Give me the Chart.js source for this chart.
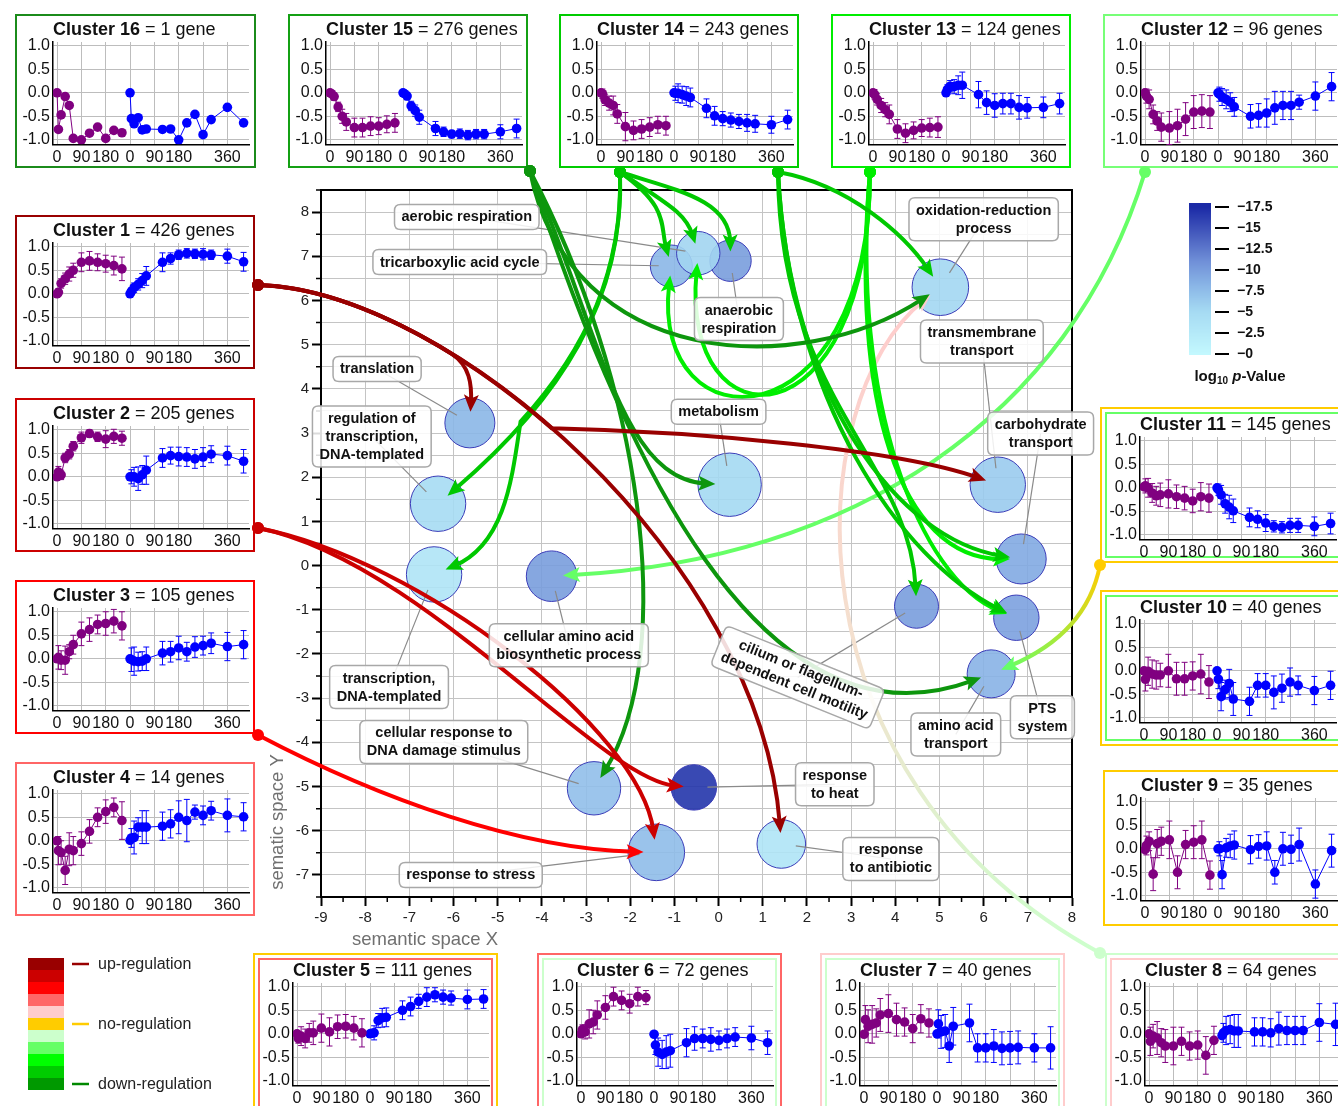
<!DOCTYPE html>
<html><head><meta charset="utf-8">
<script src="https://cdn.jsdelivr.net/npm/chart.js@4.4.0/dist/chart.umd.min.js"></script>
<style>
html,body{margin:0;padding:0;background:#fff;}
body{width:1338px;height:1106px;position:relative;overflow:hidden;font-family:"Liberation Sans",Arial,sans-serif;}
.panel{position:absolute;}
.bo{position:absolute;left:0;top:0;right:0;bottom:0;box-sizing:border-box;border:2px solid;}
.bi{position:absolute;left:5px;top:5px;right:5px;bottom:5px;box-sizing:border-box;border:2px solid;}
.panel canvas{position:absolute;left:0;top:0;}
#main{position:absolute;left:0;top:0;z-index:5;pointer-events:none;}
</style></head><body>
<canvas id="main" width="1338" height="1106"></canvas>
<script>
// ---------------- DATA ----------------
// GO terms (semantic space)
const termName = ['translation','regulation of transcription, DNA-templated','transcription, DNA-templated','cellular amino acid biosynthetic process','cellular response to DNA damage stimulus','response to stress','response to heat','response to antibiotic','metabolism','tricarboxylic acid cycle','anaerobic respiration','aerobic respiration','oxidation-reduction process','transmembrane transport','carbohydrate transport','PTS system','cilium or flagellum-dependent cell motility','amino acid transport'];
const termX = [-5.63,-6.35,-6.44,-3.78,-2.82,-1.41,-0.56,1.42,0.25,-1.07,0.27,-0.46,5.02,6.32,6.85,6.74,4.48,6.17];
const termY = [3.23,1.40,-0.20,-0.24,-5.04,-6.49,-5.02,-6.30,1.83,6.78,6.90,7.07,6.30,1.83,0.15,-1.18,-0.92,-2.45];
const termSize = [25,27.7,27.7,25.3,26.7,28.3,22.7,24.3,31.7,21,20.7,21.7,28.3,27.7,25,22.7,22,24];
const termLogP = [-8,-5,-3.5,-10,-7.3,-7.6,-16.8,-3.5,-5.2,-8,-10,-5.5,-5.3,-6.3,-9,-9.7,-10,-8.3];

// colour bar
const cbTicks = [-17.5,-15,-12.5,-10,-7.5,-5,-2.5,-0];
const cbTickText = ['\u221217.5','\u221215','\u221212.5','\u221210','\u22127.5','\u22125','\u22122.5','\u22120'];
const cbStops = [[0,'#c3f8fe'],[-5,'#a6dbf3'],[-8,'#8bb7e7'],[-11,'#7090d8'],[-14,'#4a60c0'],[-17.5,'#1b2aa6']];

// regulation legend
const regColors = ['#990000','#cc0000','#ff0000','#ff6666','#ffcccc','#ffcc00','#ccffcc','#66ff66','#00ff00','#00cc00','#009900'];
const regLabels = ['up-regulation','no-regulation','down-regulation'];
const regLabelBand = [0,5,10];
const regLineColors = ['#990000','#ffcc00','#008800'];

// main axis ticks
const xMajor = [-9,-8,-7,-6,-5,-4,-3,-2,-1,0,1,2,3,4,5,6,7,8];
const yMajor = [-7,-6,-5,-4,-3,-2,-1,0,1,2,3,4,5,6,7,8];

// cluster time courses
const purpleTime = [0,5,15,30,45,60,90,120,150,180,210,240];
const blueTime = [0,5,15,30,45,60,120,150,180,210,240,270,300,360,420];
const blueStart = 270;
const xTickPos = [0,90,180,270,360,450,540,630];
const xTickText = ['0','90','180','0','90','180','','360'];
const yTickVals = [-1,-0.5,0,0.5,1];
const geneCount = [426,205,105,14,111,72,40,64,35,40,145,96,124,243,276,1];

const c1p = [0,0.03,0.22,0.32,0.42,0.5,0.67,0.7,0.67,0.64,0.6,0.53];
const c1pe = [0.05,0.08,0.1,0.12,0.15,0.15,0.2,0.2,0.18,0.18,0.2,0.25];
const c1b = [0,0.05,0.13,0.2,0.28,0.38,0.67,0.75,0.83,0.86,0.85,0.84,0.83,0.8,0.68];
const c1be = [0.05,0.08,0.1,0.12,0.15,0.2,0.2,0.12,0.1,0.1,0.1,0.12,0.1,0.15,0.2];
const c2p = [0,0.1,0.04,0.4,0.48,0.65,0.83,0.92,0.85,0.8,0.86,0.82];
const c2pe = [0.05,0.12,0.1,0.1,0.1,0.1,0.12,0.08,0.1,0.18,0.15,0.15];
const c2b = [0,0,0,-0.04,0.04,0.14,0.4,0.45,0.43,0.42,0.38,0.42,0.48,0.45,0.33];
const c2be = [0.05,0.15,0.2,0.25,0.2,0.3,0.2,0.18,0.2,0.2,0.2,0.2,0.18,0.2,0.25];
const c3p = [0,0.03,-0.03,-0.03,0.15,0.3,0.53,0.62,0.73,0.75,0.8,0.7];
const c3pe = [0.05,0.25,0.2,0.3,0.15,0.2,0.25,0.25,0.2,0.25,0.25,0.3];
const c3b = [0,-0.02,-0.05,-0.06,-0.05,0,0.12,0.15,0.23,0.15,0.25,0.28,0.33,0.26,0.3];
const c3be = [0.05,0.25,0.3,0.2,0.2,0.25,0.25,0.22,0.25,0.2,0.22,0.2,0.22,0.3,0.3];
const c4p = [0,-0.21,-0.25,-0.63,-0.18,-0.21,-0.06,0.2,0.5,0.62,0.71,0.43];
const c4pe = [0.05,0.3,0.25,0.3,0.35,0.3,0.25,0.25,0.2,0.25,0.2,0.4];
const c4b = [0.01,0.06,0.07,0.29,0.29,0.29,0.31,0.36,0.5,0.43,0.61,0.54,0.64,0.54,0.51];
const c4be = [0.05,0.2,0.35,0.2,0.35,0.35,0.3,0.3,0.35,0.45,0.15,0.2,0.2,0.35,0.3];
const c5p = [0,-0.1,-0.05,-0.1,0.02,0.02,0.12,0.04,0.15,0.16,0.12,0.02];
const c5pe = [0.05,0.1,0.2,0.2,0.2,0.25,0.3,0.3,0.25,0.25,0.25,0.3];
const c5b = [0,0.01,0.02,0.28,0.34,0.35,0.5,0.58,0.69,0.78,0.83,0.78,0.76,0.73,0.74];
const c5be = [0.05,0.05,0.15,0.15,0.2,0.2,0.2,0.2,0.15,0.2,0.15,0.15,0.15,0.2,0.2];
const c6p = [0,0.09,0.04,0.21,0.25,0.4,0.56,0.79,0.71,0.64,0.79,0.77];
const c6pe = [0.05,0.1,0.15,0.3,0.25,0.3,0.25,0.2,0.2,0.2,0.2,0.15];
const c6b = [-0.01,-0.24,-0.39,-0.44,-0.39,-0.36,-0.19,-0.1,-0.1,-0.12,-0.14,-0.1,-0.07,-0.09,-0.19];
const c6be = [0.05,0.2,0.3,0.3,0.35,0.35,0.3,0.25,0.2,0.25,0.2,0.2,0.2,0.25,0.25];
const c7p = [-0.01,0.3,0.16,0.2,0.23,0.4,0.43,0.3,0.25,0.11,0.32,0.23];
const c7pe = [0.05,0.3,0.35,0.4,0.3,0.35,0.4,0.35,0.3,0.3,0.3,0.3];
const c7b = [0,0.21,0.04,0.06,-0.26,0.16,0.23,-0.3,-0.3,-0.26,-0.31,-0.3,-0.29,-0.3,-0.3];
const c7be = [0.05,0.3,0.35,0.35,0.35,0.4,0.4,0.3,0.3,0.35,0.35,0.35,0.35,0.3,0.45];
const c8p = [0,-0.16,-0.05,-0.09,-0.19,-0.26,-0.26,-0.16,-0.26,-0.24,-0.46,-0.14];
const c8pe = [0.05,0.3,0.25,0.35,0.3,0.35,0.4,0.3,0.3,0.3,0.4,0.3];
const c8b = [-0.04,0.02,0.07,0.09,0.06,0.06,0.04,0.04,0.02,0.11,0.07,0.07,0.07,0.24,0.2];
const c8be = [0.05,0.2,0.3,0.3,0.35,0.35,0.3,0.3,0.3,0.35,0.3,0.3,0.3,0.4,0.45];
const c9p = [-0.02,0.07,0.16,-0.54,0.11,0.16,0.19,-0.5,0.09,0.14,0.19,-0.56];
const c9pe = [0.05,0.2,0.2,0.35,0.3,0.3,0.4,0.35,0.3,0.35,0.4,0.3];
const c9b = [0,0,-0.55,0.02,0.06,0.08,-0.02,0.05,0.06,-0.5,0,-0.01,0.09,-0.75,-0.04];
const c9be = [0.05,0.15,0.3,0.2,0.25,0.3,0.3,0.25,0.3,0.25,0.35,0.3,0.35,0.3,0.35];
const c10p = [0,-0.18,-0.01,-0.07,-0.09,-0.09,0,-0.17,-0.17,-0.11,-0.07,-0.24];
const c10pe = [0.05,0.25,0.3,0.3,0.3,0.25,0.35,0.35,0.35,0.3,0.42,0.35];
const c10b = [0,-0.18,-0.55,-0.4,-0.27,-0.6,-0.65,-0.31,-0.31,-0.46,-0.37,-0.24,-0.31,-0.42,-0.31];
const c10be = [0.05,0.2,0.3,0.2,0.3,0.35,0.3,0.25,0.25,0.35,0.3,0.3,0.2,0.3,0.3];
const c11p = [0.02,0.04,0,-0.11,-0.17,-0.15,-0.13,-0.19,-0.22,-0.28,-0.19,-0.22];
const c11pe = [0.05,0.15,0.2,0.2,0.2,0.25,0.3,0.25,0.25,0.25,0.3,0.3];
const c11b = [0,-0.04,-0.15,-0.34,-0.41,-0.49,-0.63,-0.67,-0.75,-0.82,-0.84,-0.8,-0.8,-0.82,-0.76];
const c11be = [0.05,0.12,0.2,0.2,0.25,0.25,0.2,0.18,0.18,0.12,0.12,0.15,0.15,0.2,0.22];
const c12p = [0,-0.07,-0.14,-0.46,-0.6,-0.73,-0.75,-0.7,-0.56,-0.41,-0.39,-0.41];
const c12pe = [0.05,0.15,0.2,0.2,0.2,0.3,0.35,0.35,0.35,0.35,0.35,0.35];
const c12b = [0,-0.03,-0.09,-0.14,-0.2,-0.3,-0.5,-0.48,-0.43,-0.32,-0.27,-0.27,-0.2,-0.07,0.13];
const c12be = [0.05,0.15,0.18,0.2,0.2,0.2,0.25,0.25,0.3,0.35,0.3,0.3,0.15,0.3,0.3];
const c13p = [0,-0.03,-0.14,-0.27,-0.36,-0.46,-0.77,-0.86,-0.8,-0.75,-0.74,-0.73];
const c13pe = [0.05,0.1,0.12,0.15,0.15,0.2,0.2,0.2,0.18,0.18,0.2,0.22];
const c13b = [0,0.07,0.14,0.13,0.16,0.16,-0.04,-0.21,-0.27,-0.23,-0.23,-0.31,-0.32,-0.31,-0.23];
const c13be = [0.05,0.1,0.12,0.15,0.2,0.28,0.28,0.25,0.25,0.22,0.22,0.25,0.22,0.22,0.22];
const c14p = [0,-0.02,-0.15,-0.22,-0.27,-0.45,-0.72,-0.8,-0.77,-0.73,-0.68,-0.7];
const c14pe = [0.05,0.1,0.12,0.15,0.2,0.2,0.3,0.2,0.2,0.2,0.18,0.2];
const c14b = [0,-0.01,-0.01,-0.04,-0.07,-0.1,-0.33,-0.49,-0.55,-0.58,-0.61,-0.64,-0.66,-0.68,-0.57];
const c14be = [0.05,0.15,0.2,0.18,0.2,0.2,0.2,0.2,0.15,0.15,0.15,0.18,0.18,0.18,0.2];
const c15p = [0,-0.02,-0.08,-0.3,-0.5,-0.62,-0.74,-0.74,-0.71,-0.71,-0.67,-0.64];
const c15pe = [0.02,0.05,0.08,0.1,0.15,0.18,0.2,0.2,0.2,0.18,0.18,0.2];
const c15b = [0,-0.02,-0.07,-0.28,-0.38,-0.52,-0.76,-0.83,-0.88,-0.87,-0.9,-0.88,-0.88,-0.83,-0.76];
const c15be = [0.02,0.05,0.08,0.1,0.12,0.15,0.15,0.1,0.08,0.1,0.1,0.1,0.1,0.15,0.2];
const c16p = [0,-0.78,-0.47,-0.08,-0.27,-0.97,-1.0,-0.86,-0.73,-0.97,-0.8,-0.85];
const c16pe = [0,0,0,0,0,0,0,0,0,0,0,0];
const c16b = [0,-0.55,-0.66,-0.53,-0.79,-0.77,-0.78,-0.77,-1.0,-0.64,-0.46,-0.89,-0.57,-0.31,-0.64];
const c16be = [0,0,0,0,0,0,0,0,0,0,0,0,0,0,0];

const clusterSeries = {
 1:[c1p,c1pe,c1b,c1be],2:[c2p,c2pe,c2b,c2be],3:[c3p,c3pe,c3b,c3be],4:[c4p,c4pe,c4b,c4be],
 5:[c5p,c5pe,c5b,c5be],6:[c6p,c6pe,c6b,c6be],7:[c7p,c7pe,c7b,c7be],8:[c8p,c8pe,c8b,c8be],
 9:[c9p,c9pe,c9b,c9be],10:[c10p,c10pe,c10b,c10be],11:[c11p,c11pe,c11b,c11be],12:[c12p,c12pe,c12b,c12be],
 13:[c13p,c13pe,c13b,c13be],14:[c14p,c14pe,c14b,c14be],15:[c15p,c15pe,c15b,c15be],16:[c16p,c16pe,c16b,c16be]
};

// ---------------- LAYOUT / STYLE ----------------
const FAM = '"Liberation Sans", Arial, Helvetica, sans-serif';
Chart.defaults.font.family = FAM;

const panels = [
 {c:16,x:15,y:14,w:241,h:154,outer:'#1b8b1b'},
 {c:15,x:288,y:14,w:240,h:154,outer:'#14a014'},
 {c:14,x:559,y:14,w:240,h:154,outer:'#00cc00'},
 {c:13,x:831,y:14,w:240,h:154,outer:'#00ee00'},
 {c:12,x:1103,y:14,w:240,h:154,outer:'#77ff77'},
 {c:1,x:15,y:215,w:240,h:154,outer:'#990000'},
 {c:2,x:15,y:398,w:240,h:154,outer:'#cc0000'},
 {c:3,x:15,y:580,w:240,h:154,outer:'#ff0000'},
 {c:4,x:15,y:762,w:240,h:154,outer:'#ff6666'},
 {c:5,x:253,y:953,w:245,h:160,outer:'#ffcc00',inner:'#ff6666'},
 {c:6,x:537,y:953,w:245,h:160,outer:'#ff6666',inner:'#ccffcc'},
 {c:7,x:820,y:953,w:245,h:160,outer:'#ffcccc',inner:'#ccffcc'},
 {c:8,x:1105,y:953,w:245,h:160,outer:'#ccffcc',inner:'#ffcccc'},
 {c:11,x:1100,y:407,w:245,h:156,outer:'#ffcc00',inner:'#66ff66'},
 {c:10,x:1100,y:590,w:245,h:156,outer:'#ffcc00',inner:'#66ff66'},
 {c:9,x:1103,y:770,w:240,h:156,outer:'#ffcc00'}
];
const panelById = {}; panels.forEach(p => panelById[p.c] = p);

// arrow anchors (offset from panel box corner)
const arrowAnchors = {1:[[243,70]],2:[[243,130]],3:[[243,155]],15:[[242,157]],14:[[61,158],[219,158]],13:[[39,158]],12:[[42,158]],11:[[0,158]],8:[[-5,0]]};
const arrowColor = {1:'#990000',2:'#cc0000',3:'#ff0000',15:'#0d960d',14:'#00c800',13:'#00ee00',12:'#66ff66',11:['#ffcc00','#66ff66'],8:['#ccffcc','#f3e2cf','#ffcccc']};
// curve control points in semantic-space coordinates
const arrowDefs = [
 {from:8,to:12,via:[[1.385,-4.833],[1.837,3.754]]},
 {from:12,to:3,via:[[7.946,3.302],[2.968,0.138]]},
 {from:11,to:17,via:[[8.398,-1.218],[7.493,-1.896]]},
 {from:13,to:9,via:[[3.421,2.624],[-1.557,2.624]]},
 {from:13,to:11,via:[[3.421,2.624],[-0.878,2.624]]},
 {from:13,to:14,via:[[2.968,3.754],[4.10,0.138]]},
 {from:13,to:15,via:[[2.968,3.754],[4.552,-0.313]]},
 {from:14,a:0,to:1,via:[[-2.122,6.014],[-3.593,3.754]]},
 {from:14,a:0,to:2,via:[[-2.167,6.737],[-2.962,4.924],[-4.483,3.257],[-4.679,1.946],[-4.837,0.477]]},
 {from:14,a:0,to:9,via:[[-1.100,8.100],[-1.330,7.700]]},
 {from:14,a:0,to:11,via:[[-1.200,8.200],[-0.750,8.000]]},
 {from:14,a:0,to:10,via:[[-1.000,8.500],[0.250,8.300]]},
 {from:14,a:1,to:12,via:[[2.968,8.613],[4.213,7.483]]},
 {from:14,a:1,to:16,via:[[1.385,3.754],[4.326,2.398]]},
 {from:14,a:1,to:15,via:[[1.611,3.754],[4.10,0.138]]},
 {from:14,a:1,to:14,via:[[1.611,3.754],[4.10,0.590]]},
 {from:15,to:12,via:[[-3.367,4.432],[1.837,4.206]]},
 {from:15,to:4,via:[[-1.783,4.206],[-0.878,-1.896]]},
 {from:15,to:8,via:[[-2.688,5.336],[-2.235,1.946]]},
 {from:15,to:17,via:[[-2.235,2.624],[0.932,-4.381]]},
 {from:3,to:5,via:[[-7.665,-5.285],[-4.498,-6.415]]},
 {from:2,to:6,via:[[-6.760,0.138],[-2.688,-4.833]]},
 {from:2,to:5,via:[[-6.760,0.138],[-1.783,-3.703]]},
 {from:1,to:0,via:[[-9.122,6.319],[-7.579,5.745],[-6.043,4.792],[-5.629,4.523],[-5.584,4.093]]},
 {from:1,to:7,via:[[-6.081,6.240],[0.932,0.138]]},
 {from:1,to:13,via:[[-8.471,6.302],[-5.975,5.038],[-3.778,3.108],[-0.425,3.031],[4.10,2.624]]}
];

// label boxes (semantic-space positions)
const termLabels = [
 {t:0,lines:['translation'],x:-7.73,y:4.45},
 {t:1,lines:['regulation of','transcription,','DNA-templated'],x:-7.85,y:2.92},
 {t:2,lines:['transcription,','DNA-templated'],x:-7.46,y:-2.75},
 {t:3,lines:['cellular amino acid','biosynthetic process'],x:-3.39,y:-1.80},
 {t:4,lines:['cellular response to','DNA damage stimulus'],x:-6.22,y:-3.99},
 {t:5,lines:['response to stress'],x:-5.61,y:-7.0},
 {t:6,lines:['response','to heat'],x:2.63,y:-4.95},
 {t:7,lines:['response','to antibiotic'],x:3.90,y:-6.64},
 {t:8,lines:['metabolism'],x:0.0,y:3.48},
 {t:9,lines:['tricarboxylic acid cycle'],x:-5.86,y:6.87},
 {t:10,lines:['anaerobic','respiration'],x:0.46,y:5.58},
 {t:11,lines:['aerobic respiration'],x:-5.70,y:7.89},
 {t:12,lines:['oxidation-reduction','process'],x:6.0,y:7.84},
 {t:13,lines:['transmembrane','transport'],x:5.96,y:5.07},
 {t:14,lines:['carbohydrate','transport'],x:7.29,y:2.99},
 {t:15,lines:['PTS','system'],x:7.33,y:-3.43},
 {t:16,lines:['cilium or flagellum-','dependent cell motility'],x:1.79,y:-2.53,rot:22},
 {t:17,lines:['amino acid','transport'],x:5.37,y:-3.82}
];

// ---------------- HELPERS ----------------
function hexToRgb(h){return [parseInt(h.slice(1,3),16),parseInt(h.slice(3,5),16),parseInt(h.slice(5,7),16)];}
function pColor(p, alpha){
  if (alpha === undefined) alpha = 1;
  const s = cbStops; let i = 0;
  while (i < s.length-2 && p < s[i+1][0]) i++;
  let t = (p - s[i][0])/(s[i+1][0]-s[i][0]); t = Math.max(0,Math.min(1,t));
  const a = hexToRgb(s[i][1]), b = hexToRgb(s[i+1][1]);
  return 'rgba('+a.map((x,k)=>Math.round(x+(b[k]-x)*t)).join(',')+','+alpha+')';
}
function roundRect(ctx,x,y,w,h,r){
  ctx.beginPath(); ctx.moveTo(x+r,y); ctx.lineTo(x+w-r,y); ctx.quadraticCurveTo(x+w,y,x+w,y+r);
  ctx.lineTo(x+w,y+h-r); ctx.quadraticCurveTo(x+w,y+h,x+w-r,y+h); ctx.lineTo(x+r,y+h);
  ctx.quadraticCurveTo(x,y+h,x,y+h-r); ctx.lineTo(x,y+r); ctx.quadraticCurveTo(x,y,x+r,y); ctx.closePath();
}

// ---------------- PANELS ----------------
const errorBars = {
  id:'errorBars',
  beforeDatasetsDraw(chart){
    const ctx = chart.ctx, ys = chart.scales.y;
    chart.data.datasets.forEach((ds,di)=>{
      const meta = chart.getDatasetMeta(di);
      ctx.save(); ctx.strokeStyle = ds.borderColor; ctx.lineWidth = 1;
      meta.data.forEach((pt,i)=>{
        const e = ds.errors[i]; if (!e) return;
        const v = ds.data[i].y;
        const y1 = ys.getPixelForValue(v+e), y2 = ys.getPixelForValue(v-e), x = pt.x;
        ctx.beginPath(); ctx.moveTo(x,y1); ctx.lineTo(x,y2);
        ctx.moveTo(x-3,y1); ctx.lineTo(x+3,y1); ctx.moveTo(x-3,y2); ctx.lineTo(x+3,y2); ctx.stroke();
      });
      ctx.restore();
    });
  }
};
function titlePlugin(bold, rest){
  return {id:'ptitle', afterDraw(chart){
    const ctx = chart.ctx; ctx.save(); ctx.fillStyle='#111'; ctx.textBaseline='middle'; ctx.textAlign='left';
    const x = chart.chartArea.left, y = chart.chartArea.top - 12;
    ctx.font = 'bold 18px '+FAM; ctx.fillText(bold,x,y);
    const w = ctx.measureText(bold).width;
    ctx.font = '18px '+FAM; ctx.fillText(rest,x+w,y); ctx.restore();
  }};
}
function makePanel(pl){
  const div = document.createElement('div'); div.className = 'panel';
  div.style.left = pl.x+'px'; div.style.top = pl.y+'px'; div.style.width = pl.w+'px'; div.style.height = pl.h+'px';
  const bo = document.createElement('div'); bo.className='bo'; bo.style.borderColor = pl.outer; div.appendChild(bo);
  if (pl.inner){ const bi = document.createElement('div'); bi.className='bi'; bi.style.borderColor = pl.inner; div.appendChild(bi); }
  const cv = document.createElement('canvas'); cv.width = pl.w; cv.height = pl.h; div.appendChild(cv);
  document.body.appendChild(div);
  const dbl = !!pl.inner;
  const plotLeft = dbl ? 40 : 38, plotTop = dbl ? 30 : 28, plotW = 196, plotH = 102.5;
  const S = clusterSeries[pl.c];
  const n = geneCount[pl.c-1];
  new Chart(cv, {
    type:'line',
    data:{datasets:[
      {data:purpleTime.map((t,i)=>({x:t,y:S[0][i]})), errors:S[1], borderColor:'#800080', backgroundColor:'#800080', pointRadius:4.8, pointBorderWidth:0, borderWidth:1, tension:0},
      {data:blueTime.map((t,i)=>({x:blueStart+t,y:S[2][i]})), errors:S[3], borderColor:'#0000ff', backgroundColor:'#0000ff', pointRadius:4.8, pointBorderWidth:0, borderWidth:1, tension:0}
    ]},
    options:{
      responsive:false, animation:false, devicePixelRatio:1,
      layout:{padding:{left:plotLeft-34, top:plotTop, right:pl.w-(plotLeft+plotW), bottom:pl.h-(plotTop+plotH)-18}},
      plugins:{legend:{display:false}, tooltip:{enabled:false}},
      scales:{
        x:{type:'linear', min:-15, max:710,
           afterFit:s=>{s.height=18;},
           afterBuildTicks:s=>{s.ticks = xTickPos.map(v=>({value:v}));},
           ticks:{autoSkip:false, maxRotation:0, minRotation:0, padding:3, color:'#111', font:{size:16}, callback:(v,i)=>xTickText[i]},
           grid:{color:'#bdbdbd', lineWidth:1, drawTicks:false}, border:{color:'#000', width:1.5}},
        y:{type:'linear', min:-1.1, max:1.08,
           afterFit:s=>{s.width=34;},
           afterBuildTicks:s=>{s.ticks = yTickVals.map(v=>({value:v}));},
           ticks:{padding:3, color:'#111', font:{size:16}, callback:v=>Number(v).toFixed(1)},
           grid:{color:'#bdbdbd', lineWidth:1, drawTicks:false}, border:{color:'#000', width:1.5}}
      }
    },
    plugins:[errorBars, titlePlugin('Cluster '+pl.c, ' = '+n+(n===1?' gene':' genes'))]
  });
}
panels.forEach(makePanel);

// ---------------- MAIN CHART ----------------
const xAxisTicks = []; for (let v=-9; v<=8.001; v+=0.5) xAxisTicks.push(Math.round(v*2)/2);
const yAxisTicks = []; for (let v=-7.5; v<=8.501; v+=0.5) yAxisTicks.push(Math.round(v*2)/2);

function drawArrows(chart){
  const ctx = chart.ctx, xs = chart.scales.x, ys = chart.scales.y;
  const meta = chart.getDatasetMeta(0);
  arrowDefs.forEach(ar=>{
    const pl = panelById[ar.from];
    const anc = arrowAnchors[ar.from][ar.a||0];
    const S = [pl.x+anc[0], pl.y+anc[1]];
    const pts = ar.via.map(d=>[xs.getPixelForValue(d[0]), ys.getPixelForValue(d[1])]);
    const el = meta.data[ar.to]; const C = [el.x, el.y]; const r = termSize[ar.to];
    const Q = pts[pts.length-1];
    let dx = C[0]-Q[0], dy = C[1]-Q[1]; const L = Math.hypot(dx,dy); dx/=L; dy/=L;
    const tip = [C[0]-dx*0.45*r, C[1]-dy*0.45*r];
    const end = [tip[0]-dx*9, tip[1]-dy*9];
    const all = [S].concat(pts).concat([end]);
    const col = arrowColor[ar.from];
    let stroke, startCol, endCol;
    if (Array.isArray(col)){
      const g = ctx.createLinearGradient(S[0],S[1],tip[0],tip[1]);
      col.forEach((c,i)=>g.addColorStop(i/(col.length-1), c));
      stroke = g; startCol = col[0]; endCol = col[col.length-1];
    } else { stroke = startCol = endCol = col; }
    ctx.save();
    ctx.beginPath(); ctx.moveTo(S[0],S[1]);
    for (let i=1; i+2<all.length; i+=3) ctx.bezierCurveTo(all[i][0],all[i][1],all[i+1][0],all[i+1][1],all[i+2][0],all[i+2][1]);
    ctx.lineWidth = 4; ctx.strokeStyle = stroke; ctx.lineCap='butt'; ctx.stroke();
    const hl = 17, hw = 7.5;
    const bx = tip[0]-dx*hl, by = tip[1]-dy*hl;
    const nx = tip[0]-dx*hl*0.78, ny = tip[1]-dy*hl*0.78;
    ctx.beginPath(); ctx.moveTo(tip[0],tip[1]);
    ctx.lineTo(bx-dy*hw, by+dx*hw); ctx.lineTo(nx,ny); ctx.lineTo(bx+dy*hw, by-dx*hw); ctx.closePath();
    ctx.fillStyle = endCol; ctx.fill();
    ctx.beginPath(); ctx.arc(S[0],S[1],6,0,Math.PI*2); ctx.fillStyle = startCol; ctx.fill();
    ctx.restore();
  });
}

const mainPlugin = {
  id:'mainDecor',
  afterDatasetsDraw(chart){
    const ctx = chart.ctx, a = chart.chartArea, xs = chart.scales.x, ys = chart.scales.y;
    ctx.save();
    ctx.strokeStyle='#000'; ctx.lineWidth=2; ctx.strokeRect(a.left,a.top,a.right-a.left,a.bottom-a.top);
    ctx.lineWidth=1.5; ctx.beginPath();
    xAxisTicks.forEach(v=>{ if (!Number.isInteger(v)){ const x = xs.getPixelForValue(v); ctx.moveTo(x,a.bottom); ctx.lineTo(x,a.bottom+5);} });
    yAxisTicks.forEach(v=>{ if (!Number.isInteger(v)){ const y = ys.getPixelForValue(v); ctx.moveTo(a.left-5,y); ctx.lineTo(a.left,y);} });
    ctx.stroke();
    const meta = chart.getDatasetMeta(0);
    ctx.strokeStyle='#8a8a8a'; ctx.lineWidth=1.2;
    termLabels.forEach(lb=>{
      const el = meta.data[lb.t]; const lx = xs.getPixelForValue(lb.x), ly = ys.getPixelForValue(lb.y);
      let dx = lx-el.x, dy = ly-el.y; const L = Math.hypot(dx,dy); dx/=L; dy/=L;
      const r = termSize[lb.t]*0.6;
      ctx.beginPath(); ctx.moveTo(lx,ly); ctx.lineTo(el.x+dx*r, el.y+dy*r); ctx.stroke();
    });
    ctx.restore();
    drawArrows(chart);
  },
  afterDraw(chart){
    const ctx = chart.ctx, a = chart.chartArea, xs = chart.scales.x, ys = chart.scales.y;
    termLabels.forEach(lb=>{
      ctx.save();
      ctx.translate(xs.getPixelForValue(lb.x), ys.getPixelForValue(lb.y));
      if (lb.rot) ctx.rotate(lb.rot*Math.PI/180);
      ctx.font = 'bold 14.5px '+FAM;
      const w = Math.max.apply(null, lb.lines.map(l=>ctx.measureText(l).width)) + 14;
      const h = lb.lines.length*18 + 7;
      roundRect(ctx,-w/2,-h/2,w,h,6);
      ctx.fillStyle='rgba(255,255,255,0.86)'; ctx.fill();
      ctx.strokeStyle='#a8a8a8'; ctx.lineWidth=1.5; ctx.stroke();
      ctx.fillStyle='#111'; ctx.textAlign='center'; ctx.textBaseline='middle';
      lb.lines.forEach((l,i)=>ctx.fillText(l, 0, -h/2 + 3.5 + 9 + i*18 + 0.5));
      ctx.restore();
    });
    ctx.save();
    ctx.fillStyle='#707070'; ctx.font='18.5px '+FAM; ctx.textAlign='center'; ctx.textBaseline='middle';
    ctx.fillText('semantic space X', a.left+104, a.bottom+43);
    ctx.save(); ctx.translate(a.left-43, a.bottom-75); ctx.rotate(-Math.PI/2); ctx.fillText('sematic space Y',0,0); ctx.restore();
    const cbx = 1189, cbw = 22, cbTop = 203, cbBot = 355, yTop = 207, yBot = 354;
    for (let y=cbTop; y<cbBot; y++){
      let v = -17.5*(yBot-(y+0.5))/(yBot-yTop); v = Math.max(-17.5, Math.min(0, v));
      ctx.fillStyle = pColor(v,1); ctx.fillRect(cbx, y, cbw, 1);
    }
    ctx.strokeStyle='#000'; ctx.lineWidth=2; ctx.fillStyle='#111';
    ctx.font='bold 14px '+FAM; ctx.textAlign='left'; ctx.textBaseline='middle';
    cbTicks.forEach((v,i)=>{
      const y = yBot - (v/-17.5)*(yBot-yTop);
      ctx.beginPath(); ctx.moveTo(1215,y); ctx.lineTo(1229,y); ctx.stroke();
      ctx.fillText(cbTickText[i], 1237, y);
    });
    const p1 = 'log', p2 = '10', p3 = ' ', p4 = 'p', p5 = '-Value';
    ctx.font='bold 15px '+FAM; const w1 = ctx.measureText(p1).width;
    ctx.font='bold 10px '+FAM; const w2 = ctx.measureText(p2).width;
    ctx.font='bold 15px '+FAM; const w3 = ctx.measureText(p3).width;
    ctx.font='italic bold 15px '+FAM; const w4 = ctx.measureText(p4).width;
    ctx.font='bold 15px '+FAM; const w5 = ctx.measureText(p5).width;
    let tx = 1240 - (w1+w2+w3+w4+w5)/2, ty = 377;
    ctx.font='bold 15px '+FAM; ctx.fillText(p1,tx,ty); tx+=w1;
    ctx.font='bold 10px '+FAM; ctx.fillText(p2,tx,ty+4); tx+=w2+w3;
    ctx.font='italic bold 15px '+FAM; ctx.fillText(p4,tx,ty); tx+=w4;
    ctx.font='bold 15px '+FAM; ctx.fillText(p5,tx,ty);
    regColors.forEach((c,i)=>{ ctx.fillStyle=c; ctx.fillRect(28, 958+i*12, 36, 12); });
    ctx.font='16px '+FAM; ctx.textBaseline='middle'; ctx.textAlign='left';
    regLabels.forEach((t,i)=>{
      const y = 958 + regLabelBand[i]*12 + 6;
      ctx.strokeStyle = regLineColors[i]; ctx.lineWidth=2.5;
      ctx.beginPath(); ctx.moveTo(72,y); ctx.lineTo(89,y); ctx.stroke();
      ctx.fillStyle='#222'; ctx.fillText(t, 98, y+1);
    });
    ctx.restore();
  }
};

const isInt = v => Math.abs(v - Math.round(v)) < 1e-9;
new Chart(document.getElementById('main'), {
  type:'bubble',
  data:{datasets:[{
    data: termX.map((x,i)=>({x:x, y:termY[i], r:termSize[i]})),
    backgroundColor: termLogP.map(p=>pColor(p,0.9)),
    borderColor:'#3a3cb8', borderWidth:1, hoverRadius:0
  }]},
  options:{
    responsive:false, animation:false, devicePixelRatio:1,
    layout:{padding:{left:321-42, top:190, right:1338-1072, bottom:1106-897-42}},
    plugins:{legend:{display:false}, tooltip:{enabled:false}},
    scales:{
      x:{type:'linear', min:-9, max:8,
         afterFit:s=>{s.height=42;},
         afterBuildTicks:s=>{s.ticks = xAxisTicks.map(v=>({value:v}));},
         ticks:{autoSkip:false, maxRotation:0, minRotation:0, padding:3, color:'#222', font:{size:15}, callback:v=> (isInt(v) && xMajor.indexOf(Math.round(v))>=0) ? String(Math.round(v)) : ''},
         grid:{color:c=> isInt(c.tick.value) ? '#c4c4c4' : 'rgba(0,0,0,0)', lineWidth:1, tickLength:9, tickWidth:2, tickColor:c=> isInt(c.tick.value) ? '#000' : 'rgba(0,0,0,0)'},
         border:{color:'#000', width:2}},
      y:{type:'linear', min:-7.5, max:8.5,
         afterFit:s=>{s.width=42;},
         afterBuildTicks:s=>{s.ticks = yAxisTicks.map(v=>({value:v}));},
         ticks:{autoSkip:false, padding:3, color:'#222', font:{size:15}, callback:v=> (isInt(v) && yMajor.indexOf(Math.round(v))>=0) ? String(Math.round(v)) : ''},
         grid:{color:'#c4c4c4', lineWidth:1, tickLength:9, tickWidth:2, tickColor:c=> isInt(c.tick.value) ? '#000' : 'rgba(0,0,0,0)'},
         border:{color:'#000', width:2}}
    }
  },
  plugins:[mainPlugin]
});
</script></body></html>
